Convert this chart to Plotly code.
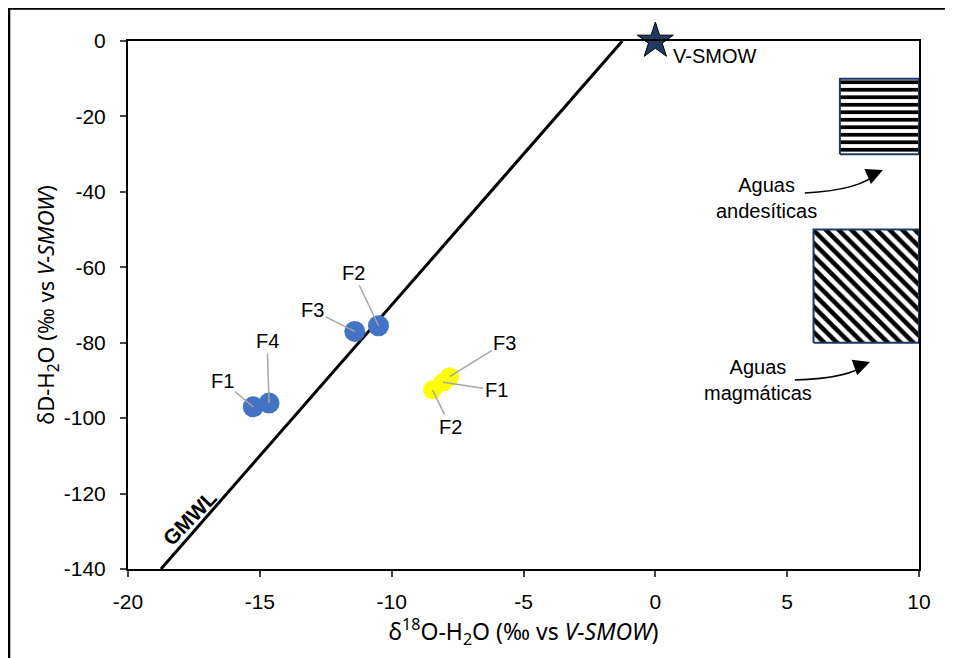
import plotly.graph_objects as go

# ---- data ----
blue_labels = ["F1", "F4", "F3", "F2"]
blue_x = [-15.25, -14.65, -11.4, -10.5]
blue_y = [-97.0, -96.0, -77.0, -75.5]

yellow_labels = ["F2", "F1", "F3"]
yellow_x = [-8.45, -8.05, -7.8]
yellow_y = [-92.5, -90.5, -89.0]

gmwl_x = [-18.75, -1.25]
gmwl_slope = 8
gmwl_intercept = 10

vsmow_x = [0]
vsmow_y = [0]

andes_box = {"x": [7, 10], "y": [-30, -10]}
magma_box = {"x": [6, 10], "y": [-80, -50]}

x_ticks = [-20, -15, -10, -5, 0, 5, 10]
y_ticks = [0, -20, -40, -60, -80, -100, -120, -140]
x_ticktext = ["-20", "-15", "-10", "-5", "0", "5", "10"]
y_ticktext = ["0", "-20", "-40", "-60", "-80", "-100", "-120", "-140"]

# label offsets (pixels) for leader lines
blue_offsets = [(-31, -26), (-2, -62), (-42, -21), (-25, -53)]
yellow_offsets = [(18, 37), (53, 8), (55, -34)]

FONT = "Liberation Sans"
TFONT = "Noto Sans"
fig = go.Figure()

def box_trace(b, shape, size, sol):
    xs = [b["x"][0], b["x"][1], b["x"][1], b["x"][0], b["x"][0]]
    ys = [b["y"][0], b["y"][0], b["y"][1], b["y"][1], b["y"][0]]
    return go.Scatter(x=xs, y=ys, mode="lines", fill="toself",
                      fillcolor="white",
                      fillpattern=dict(shape=shape, size=size, solidity=sol,
                                       fgcolor="black", bgcolor="white", fillmode="replace"),
                      line=dict(color="#1f3864", width=2), hoverinfo="skip", showlegend=False)

fig.add_trace(box_trace(andes_box, "-", 7.5, 0.5))
fig.add_trace(box_trace(magma_box, "\\", 9, 0.5))

gmwl_y = [gmwl_slope * v + gmwl_intercept for v in gmwl_x]
fig.add_trace(go.Scatter(x=gmwl_x, y=gmwl_y, mode="lines",
                         line=dict(color="black", width=3), showlegend=False, hoverinfo="skip"))

fig.add_trace(go.Scatter(x=blue_x, y=blue_y, mode="markers",
                         marker=dict(size=21, color="#4472C4", line=dict(width=0)), showlegend=False))
fig.add_trace(go.Scatter(x=yellow_x, y=yellow_y, mode="markers",
                         marker=dict(size=19, color="#FFFF00", line=dict(width=0)), showlegend=False))
fig.add_trace(go.Scatter(x=vsmow_x, y=vsmow_y, mode="markers",
                         marker=dict(size=27, symbol="star", color="#1f3864",
                                     line=dict(color="black", width=1)), showlegend=False,
                         cliponaxis=False))

LF = dict(family=FONT, size=20, color="black")
ann = []
for lab, x, y, (ax, ay) in zip(blue_labels, blue_x, blue_y, blue_offsets):
    ann.append(dict(x=x, y=y, text=lab, ax=ax, ay=ay, showarrow=True, arrowhead=0,
                    arrowcolor="#a6a6a6", arrowwidth=1.5, font=LF))
for lab, x, y, (ax, ay) in zip(yellow_labels, yellow_x, yellow_y, yellow_offsets):
    ann.append(dict(x=x, y=y, text=lab, ax=ax, ay=ay, showarrow=True, arrowhead=0,
                    arrowcolor="#a6a6a6", arrowwidth=1.5, font=LF))

TF = dict(family=FONT, size=20, color="black")
ann.append(dict(x=0.6, y=-4.0, text="V-SMOW", showarrow=False, xanchor="left", font=TF))
ann.append(dict(x=-17.65, y=-126.3, text="<b>GMWL</b>", showarrow=False, textangle=-46,
                font=dict(family=FONT, size=21, color="black")))
ann.append(dict(x=4.2, y=-41.5, text="Aguas<br>andesíticas", showarrow=False, font=TF))
ann.append(dict(x=3.9, y=-90.0, text="Aguas<br>magmáticas", showarrow=False, font=TF))
# arrowheads
ann.append(dict(x=8.63, y=-34.2, ax=-14, ay=6, showarrow=True, arrowhead=2, arrowsize=2.2,
                arrowwidth=1.5, arrowcolor="black", text=""))
ann.append(dict(x=8.14, y=-85.1, ax=-14, ay=5, showarrow=True, arrowhead=2, arrowsize=2.2,
                arrowwidth=1.5, arrowcolor="black", text=""))

shapes = [
    dict(type="path", xref="x", yref="y", path="M 5.67,-40.3 Q 7.8,-39.6 8.5,-34.6",
         line=dict(color="black", width=1.5)),
    dict(type="path", xref="x", yref="y", path="M 5.29,-89.9 Q 7.4,-89.4 8.0,-85.6",
         line=dict(color="black", width=1.5)),
    dict(type="rect", xref="paper", yref="paper", x0=-0.1504, x1=1.06, y0=-0.2, y1=1.0616,
         line=dict(color="black", width=2.5)),
]

fig.update_layout(
    width=945, height=650,
    margin=dict(l=120, r=34, t=33, b=89),
    plot_bgcolor="white", paper_bgcolor="white",
    annotations=ann, shapes=shapes,
    xaxis=dict(range=[-20, 10], tickvals=x_ticks, ticktext=x_ticktext, ticks="outside",
               ticklen=6, tickwidth=1.5, ticklabelstandoff=7,
               showline=True, linecolor="black", linewidth=2, mirror=True, showgrid=False,
               zeroline=False, tickfont=dict(family=FONT, size=21, color="black"),
               title=dict(text="δ<sup>18</sup>O-H<sub>2</sub>O (‰ vs <i>V-SMOW</i>)",
                          font=dict(family=TFONT, size=23, color="black"), standoff=6)),
    yaxis=dict(range=[-140, 0], tickvals=y_ticks, ticktext=y_ticktext, ticks="outside",
               ticklen=6, tickwidth=1.5, ticklabelstandoff=10,
               showline=True, linecolor="black", linewidth=2, mirror=True, showgrid=False,
               zeroline=False, tickfont=dict(family=FONT, size=21, color="black"),
               title=dict(text="δD-H<sub>2</sub>O (‰ vs <i>V-SMOW</i>)",
                          font=dict(family=TFONT, size=22, color="black"), standoff=3)),
)

fig.write_html("out.html")
